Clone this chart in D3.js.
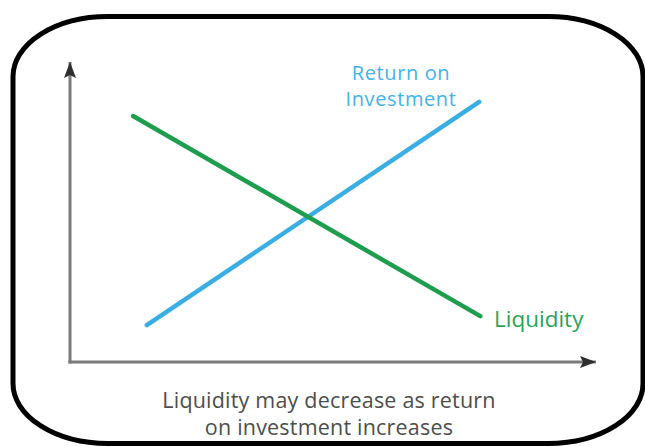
<!DOCTYPE html>
<html>
<head>
<meta charset="utf-8">
<script src="https://cdn.jsdelivr.net/npm/d3@7"></script>
<style>
  html, body { margin: 0; padding: 0; background: #fff; }
  svg { display: block; }
</style>
</head>
<body>
<svg id="chart" width="645" height="447"></svg>
<script>
// Data (domain 0-100 on both axes)
const seriesNames = ["Liquidity", "Return on Investment"];
const liquidityX = [12, 78];
const liquidityY = [82, 15.3];
const returnX = [14.6, 77.8];
const returnY = [12.3, 86.7];
const returnLabel = ["Return on", "Investment"];
const liquidityLabel = ["Liquidity"];
const captionLines = ["Liquidity may decrease as return", "on investment increases"];

const svg = d3.select("#chart");
const font = "'Open Sans', 'Noto Sans', sans-serif";

// Rounded frame
const fx0 = 13, fx1 = 643, fy0 = 16.5, fy1 = 443.5, rx = 95, ry = 60;
svg.append("path")
  .attr("d", `M${fx0 + rx},${fy0} L${fx1 - rx},${fy0} A${rx},${ry} 0 0 1 ${fx1},${fy0 + ry} L${fx1},${fy1 - ry} A${rx},${ry} 0 0 1 ${fx1 - rx},${fy1} L${fx0 + rx},${fy1} A${rx},${ry} 0 0 1 ${fx0},${fy1 - ry} L${fx0},${fy0 + ry} A${rx},${ry} 0 0 1 ${fx0 + rx},${fy0} Z`)
  .attr("fill", "none")
  .attr("stroke", "#000")
  .attr("stroke-width", 5);

// Scales
const x = d3.scaleLinear().domain([0, 100]).range([70, 596]);
const y = d3.scaleLinear().domain([0, 100]).range([362, 62]);

// Arrow markers
const defs = svg.append("defs");
defs.append("marker")
  .attr("id", "arrow")
  .attr("viewBox", "0 0 16 12")
  .attr("refX", 16).attr("refY", 6)
  .attr("markerWidth", 16).attr("markerHeight", 12)
  .attr("markerUnits", "userSpaceOnUse")
  .attr("orient", "auto")
  .append("path")
  .attr("d", "M0,0 L16,6 L0,12 L3,6 Z")
  .attr("fill", "#2e2e2e");

// Axes
svg.append("line")
  .attr("x1", x(0)).attr("y1", y(0) + 1.5)
  .attr("x2", x(0)).attr("y2", y(100))
  .attr("stroke", "#7a7a7a").attr("stroke-width", 3)
  .attr("marker-end", "url(#arrow)");
svg.append("line")
  .attr("x1", x(0) - 1.5).attr("y1", y(0))
  .attr("x2", x(100)).attr("y2", y(0))
  .attr("stroke", "#7a7a7a").attr("stroke-width", 3)
  .attr("marker-end", "url(#arrow)");

// Lines
const line = d3.line().x(d => x(d[0])).y(d => y(d[1]));
const liq = liquidityX.map((v, i) => [v, liquidityY[i]]);
const ret = returnX.map((v, i) => [v, returnY[i]]);

svg.append("path").datum(ret)
  .attr("d", line)
  .attr("fill", "none")
  .attr("stroke", "#3aaee2")
  .attr("stroke-width", 4.5)
  .attr("stroke-linecap", "round");

svg.append("path").datum(liq)
  .attr("d", line)
  .attr("fill", "none")
  .attr("stroke", "#1f9d4f")
  .attr("stroke-width", 4.5)
  .attr("stroke-linecap", "round");

// Labels
svg.append("g").selectAll("text").data(returnLabel).join("text")
  .attr("x", 401)
  .attr("y", (d, i) => 80 + i * 25.5)
  .attr("text-anchor", "middle")
  .attr("font-family", font)
  .attr("font-size", 20)
  .attr("letter-spacing", 0.6)
  .attr("fill", "#45b2e6")
  .text(d => d);

svg.append("g").selectAll("text").data(liquidityLabel).join("text")
  .attr("x", 494)
  .attr("y", 327)
  .attr("font-family", font)
  .attr("font-size", 22.5)
  .attr("fill", "#2aa35a")
  .text(d => d);

svg.append("g").selectAll("text").data(captionLines).join("text")
  .attr("x", 329)
  .attr("y", (d, i) => 408 + i * 27)
  .attr("text-anchor", "middle")
  .attr("font-family", font)
  .attr("font-size", 21.5)
  .attr("letter-spacing", 0.2)
  .attr("fill", "#4d4d4d")
  .text(d => d);
</script>
</body>
</html>
